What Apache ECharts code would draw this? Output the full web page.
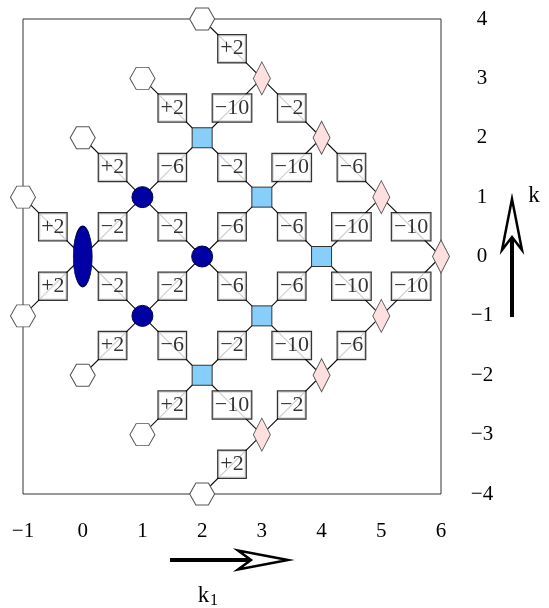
<!DOCTYPE html>
<html>
<head>
<meta charset="utf-8">
<script src="https://cdn.jsdelivr.net/npm/echarts@6/dist/echarts.min.js"></script>
<style>
  html, body { margin: 0; padding: 0; background: #fff; }
  #chart { width: 549px; height: 608px; }
</style>
</head>
<body>
<div id="chart"></div>
<script>
// weight nodes, in (k1, k) coordinates
var hexagons = [[2, 4], [1, 3], [0, 2], [-1, 1], [-1, -1], [0, -2], [1, -3], [2, -4]];
var circles = [[1, 1], [2, 0], [1, -1]];
var ellipses = [[0, 0]];
var squares = [[2, 2], [3, 1], [4, 0], [3, -1], [2, -2]];
var diamonds = [[3, 3], [4, 2], [5, 1], [6, 0], [5, -1], [4, -2], [3, -3]];

// edges: x1, y1, x2, y2, label
var edges = [
  [2, 4, 3, 3, '+2'],
  [1, 3, 2, 2, '+2'],
  [2, 2, 3, 3, '−10'],
  [3, 3, 4, 2, '−2'],
  [0, 2, 1, 1, '+2'],
  [1, 1, 2, 2, '−6'],
  [2, 2, 3, 1, '−2'],
  [3, 1, 4, 2, '−10'],
  [4, 2, 5, 1, '−6'],
  [-1, 1, 0, 0, '+2'],
  [0, 0, 1, 1, '−2'],
  [1, 1, 2, 0, '−2'],
  [2, 0, 3, 1, '−6'],
  [3, 1, 4, 0, '−6'],
  [4, 0, 5, 1, '−10'],
  [5, 1, 6, 0, '−10'],
  [-1, -1, 0, 0, '+2'],
  [0, 0, 1, -1, '−2'],
  [1, -1, 2, 0, '−2'],
  [2, 0, 3, -1, '−6'],
  [3, -1, 4, 0, '−6'],
  [4, 0, 5, -1, '−10'],
  [5, -1, 6, 0, '−10'],
  [0, -2, 1, -1, '+2'],
  [1, -1, 2, -2, '−6'],
  [2, -2, 3, -1, '−2'],
  [3, -1, 4, -2, '−10'],
  [4, -2, 5, -1, '−6'],
  [1, -3, 2, -2, '+2'],
  [2, -2, 3, -3, '−10'],
  [3, -3, 4, -2, '−2'],
  [2, -4, 3, -3, '+2']
];

var serif = 'Liberation Serif, Times New Roman, serif';
var minus = function (v) { return String(v).replace('-', '−'); };

// one broken polyline for all edges
var edgePath = [];
edges.forEach(function (e) {
  edgePath.push([e[0], e[1]], [e[2], e[3]], '-');
});

var chart = echarts.init(document.getElementById('chart'));
var option = {
  animation: false,
  grid: {
    left: 23, right: 108, top: 19, bottom: 114,
    show: true, borderColor: '#333', borderWidth: 1
  },
  xAxis: {
    type: 'value', min: -1, max: 6, interval: 1,
    axisLine: { show: false }, axisTick: { show: false }, splitLine: { show: false },
    axisLabel: {
      margin: 27, fontSize: 21, fontFamily: serif, color: '#000',
      showMinLabel: true, showMaxLabel: true, formatter: minus
    }
  },
  yAxis: {
    type: 'value', position: 'right', min: -4, max: 4, interval: 1,
    axisLine: { show: false }, axisTick: { show: false }, splitLine: { show: false },
    axisLabel: {
      margin: 41, align: 'center', padding: [8, 0, 0, 0],
      fontSize: 21, fontFamily: serif, color: '#000',
      showMinLabel: true, showMaxLabel: true, formatter: minus
    }
  },
  series: [
    {
      type: 'line',
      z: 1,
      silent: true,
      showSymbol: false,
      connectNulls: false,
      lineStyle: { color: '#111', width: 1.1 },
      data: edgePath
    },
    {
      type: 'scatter', z: 2, silent: true,
      symbol: 'path://M0,43.3L25,0L75,0L100,43.3L75,86.6L25,86.6Z',
      symbolSize: [25, 22],
      itemStyle: { color: '#fff', borderColor: '#555', borderWidth: 1, opacity: 1 },
      data: hexagons
    },
    {
      type: 'scatter', z: 2, silent: true,
      symbol: 'circle', symbolSize: 21,
      itemStyle: { color: '#0000a3', borderColor: '#00004a', borderWidth: 1, opacity: 1 },
      data: circles
    },
    {
      type: 'scatter', z: 2, silent: true,
      symbol: 'path://M0,50A50,50,0,1,1,100,50A50,50,0,1,1,0,50Z',
      symbolSize: [19, 60],
      itemStyle: { color: '#0000a3', borderColor: '#00004a', borderWidth: 1, opacity: 1 },
      data: ellipses
    },
    {
      type: 'scatter', z: 2, silent: true,
      symbol: 'rect', symbolSize: 20,
      itemStyle: { color: '#87cefa', borderColor: '#333', borderWidth: 1, opacity: 1 },
      data: squares
    },
    {
      type: 'scatter', z: 2, silent: true,
      symbol: 'diamond', symbolSize: [17, 33],
      itemStyle: { color: '#ffe0e0', borderColor: '#555', borderWidth: 1, opacity: 1 },
      data: diamonds
    },
    {
      type: 'scatter', z: 3, silent: true,
      symbolSize: 1,
      itemStyle: { color: 'rgba(0,0,0,0)' },
      label: {
        show: true, position: 'inside',
        formatter: function (p) { return p.data[2]; },
        fontSize: 22, fontFamily: serif, color: '#000', lineHeight: 22,
        backgroundColor: '#fff', borderColor: '#000', borderWidth: 1.2,
        padding: [3, 2, 2, 2]
      },
      data: edges.map(function (e) { return [(e[0] + e[2]) / 2, (e[1] + e[3]) / 2, e[4]]; })
    }
  ],
  graphic: [
    // k1 direction arrow
    { type: 'line', shape: { x1: 170, y1: 560, x2: 252, y2: 560 }, style: { stroke: '#000', lineWidth: 4 } },
    {
      type: 'polygon',
      shape: { points: [[288, 560], [238, 550.5], [251, 560], [238, 569.5]] },
      style: { fill: '#fff', stroke: '#000', lineWidth: 2.5, lineJoin: 'miter' }
    },
    { type: 'text', x: 203.5, y: 596, style: { text: 'k', font: '23px ' + serif, fill: '#000', align: 'center', verticalAlign: 'middle' } },
    { type: 'text', x: 214, y: 601, style: { text: '1', font: '16px ' + serif, fill: '#000', align: 'center', verticalAlign: 'middle' } },
    // k direction arrow
    { type: 'line', shape: { x1: 512, y1: 317, x2: 512, y2: 236 }, style: { stroke: '#000', lineWidth: 4 } },
    {
      type: 'polygon',
      shape: { points: [[512, 199], [502, 250], [512, 237], [522, 250]] },
      style: { fill: '#fff', stroke: '#000', lineWidth: 2.5, lineJoin: 'miter' }
    },
    { type: 'text', x: 534, y: 196, style: { text: 'k', font: '23px ' + serif, fill: '#000', align: 'center', verticalAlign: 'middle' } }
  ]
};
chart.setOption(option);
window.addEventListener('resize', function () {
  chart.resize();
});
</script>
</body>
</html>
